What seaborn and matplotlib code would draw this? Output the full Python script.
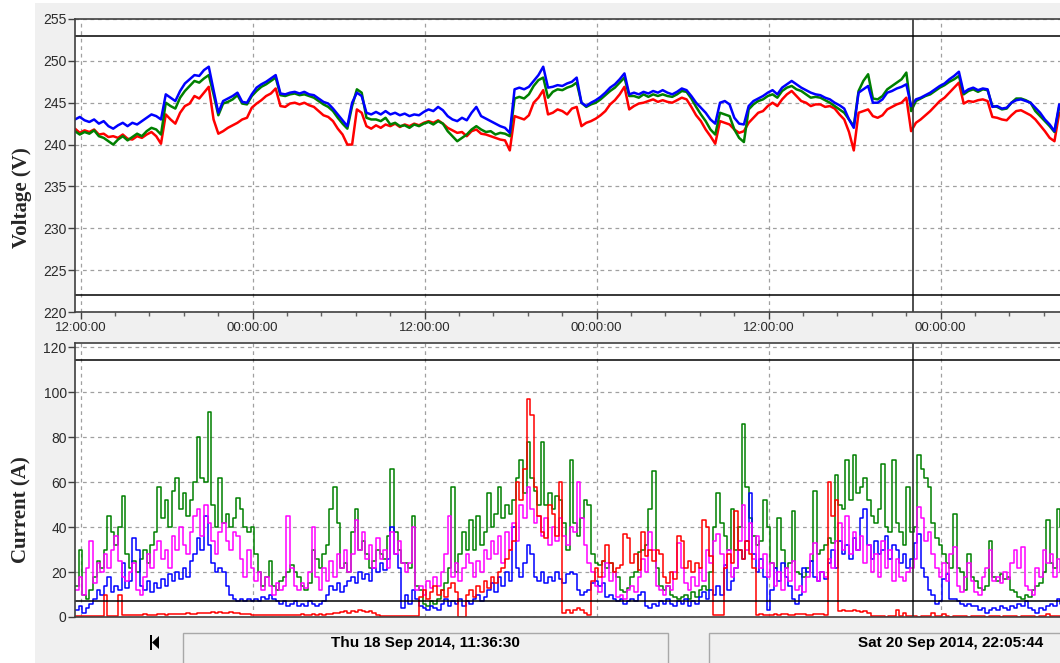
import numpy as np
import pandas as pd
import seaborn as sns
import matplotlib
matplotlib.use("Agg")
import matplotlib.pyplot as plt
import matplotlib.dates as mdates
from matplotlib.patches import Rectangle, Polygon


sns.set_style("white")
plt.rcParams["font.family"] = ["Liberation Sans", "DejaVu Sans"]

START = pd.Timestamp("2014-09-18 11:36:30")
CURSOR = pd.Timestamp("2014-09-20 22:05:44")
END = START + pd.Timedelta(hours=68.72)
VOLT_STEP = 20   # minutes
CUR_STEP = 15    # minutes

# phase voltages, one sample every 20 min
volt_blue = [
    243.0, 243.3, 242.9, 242.7, 243.0, 242.5, 242.8, 242.2, 241.9, 242.3, 242.6, 242.2,
    242.6, 242.4, 242.8, 243.2, 243.6, 243.4, 243.0, 246.0, 245.6, 245.2, 246.4, 247.3,
    247.8, 248.3, 248.2, 248.9, 249.3, 246.5, 243.8, 245.2, 245.5, 245.8, 246.2, 245.1,
    245.0, 246.0, 246.8, 247.2, 247.5, 247.9, 248.3, 246.1, 246.0, 246.2, 246.3, 246.1,
    246.3, 246.0, 245.9, 245.5, 245.1, 244.9, 244.3, 243.6, 242.9, 242.2, 245.0, 246.2,
    245.8, 243.8, 243.6, 243.9, 243.6, 244.0, 243.6, 243.8, 243.5, 243.7, 243.4, 243.6,
    243.5, 243.9, 244.2, 244.0, 244.5, 244.1, 243.4, 243.0, 242.8, 243.2, 242.9, 243.8,
    244.5, 243.4, 243.1, 242.8, 242.5, 242.2, 242.0, 241.4, 246.6, 246.8, 246.6, 246.9,
    247.6, 248.3, 249.3, 246.8, 246.9, 247.1, 247.0, 247.3, 247.5, 248.0, 245.0, 244.6,
    245.0, 245.3, 245.7, 246.2, 246.8, 247.2, 247.8, 248.5, 246.0, 246.2, 246.0, 246.3,
    246.1, 246.4, 246.2, 246.5, 246.2, 246.0, 246.3, 246.7, 246.5, 245.8, 245.0, 244.4,
    243.8, 243.0, 242.5, 245.0, 245.2, 244.8, 243.2, 242.5, 242.4, 244.6, 245.2, 245.5,
    245.8, 246.2, 246.5, 246.0, 246.8, 247.2, 247.6, 247.2, 246.8, 246.5, 246.2, 246.0,
    245.9, 245.6, 245.4, 245.0, 244.7, 244.3, 243.0, 242.0, 246.2, 246.6, 247.0, 245.0,
    245.0, 245.4, 246.2, 246.4, 246.7, 246.9, 247.2, 244.6, 245.4, 245.6, 245.9, 246.2,
    246.6, 247.0, 247.3, 247.8, 248.2, 248.7, 246.2, 246.6, 246.8, 246.5, 246.7, 246.6,
    244.5, 244.6, 244.3, 244.4, 245.0, 245.3, 245.4, 245.2, 245.0, 244.4, 243.8, 243.0,
    242.4, 241.6, 244.8,
]
volt_green = [
    241.6, 241.2, 241.5, 241.3, 241.7, 241.0, 240.8, 240.4, 240.0, 240.6, 241.0, 240.5,
    240.9, 241.3, 241.0, 241.6, 242.0, 241.8, 241.2, 245.0, 244.6, 244.3, 245.6, 246.4,
    247.0, 247.6, 247.4, 247.9, 248.3, 246.0, 243.5, 244.9, 245.1, 245.4, 245.9, 244.9,
    244.8, 245.8, 246.4, 246.9, 247.2, 247.6, 248.0, 245.9, 245.8, 246.0, 246.1, 245.9,
    246.0, 245.8, 245.6, 245.2, 244.8, 244.5, 244.0, 243.2, 242.5, 241.9, 244.6, 246.6,
    246.2, 243.2, 243.0, 243.0, 242.8, 243.2, 242.4, 242.6, 242.2, 242.3, 242.0, 242.4,
    242.2, 242.5, 242.7, 242.4, 242.8, 242.5, 241.6, 241.0, 240.4, 240.8, 241.2, 241.8,
    242.2, 241.8, 241.5, 241.6, 241.2, 241.4, 241.3, 241.0, 245.5, 245.7, 245.5, 246.0,
    247.0, 247.7, 248.0, 245.6, 246.3, 246.6, 246.5, 246.8, 247.0, 247.4, 245.0, 244.5,
    244.8, 245.0, 245.4, 245.9, 246.4, 246.8, 247.4, 248.0, 245.8, 245.8, 245.6, 246.0,
    245.7, 246.0, 245.8, 246.0, 245.8, 245.7, 246.0, 246.4, 246.3, 245.5, 244.5, 243.6,
    242.8, 241.8, 241.2, 243.8, 243.6, 243.4, 241.8, 240.8, 240.3, 244.2, 244.8, 245.2,
    245.4, 245.8, 246.0, 245.6, 246.4, 246.8, 247.0, 246.6, 246.4, 246.0, 245.6, 245.7,
    245.6, 245.3, 245.0, 244.6, 244.2, 243.8, 243.0, 242.2, 246.4, 247.6, 248.4, 245.5,
    245.4, 245.8, 246.6, 247.0, 247.4, 247.8, 248.6, 244.0, 245.2, 245.5, 245.8, 246.0,
    246.4, 246.8, 247.1, 247.5, 247.8, 248.2, 246.0, 246.4, 246.6, 246.3, 246.6, 246.5,
    244.6, 244.5, 244.2, 244.3, 245.0, 245.5, 245.5, 245.3, 245.0, 244.0, 243.4, 242.8,
    242.2, 241.5, 244.5,
]
volt_red = [
    241.9, 241.4, 241.7, 241.5, 241.8, 241.2, 241.3, 240.9, 241.0, 240.8, 241.2, 240.7,
    240.6, 241.0, 240.8, 241.2, 241.5, 241.0, 240.1, 243.6, 243.0, 242.5, 243.8, 244.6,
    244.9, 245.8, 245.5, 246.2, 246.9, 243.0, 241.3, 241.6, 242.0, 242.3, 242.6, 243.0,
    243.2, 244.4, 244.9, 245.3, 245.8, 246.1, 246.7, 244.6, 244.5, 244.9, 245.0, 244.8,
    245.0, 244.7, 244.5, 244.0, 243.5, 243.3, 242.8, 241.9, 241.2, 240.0, 240.0, 244.2,
    243.8, 242.2, 241.9, 242.3, 242.0, 242.4, 242.2, 242.5, 242.1, 242.4, 242.2, 242.5,
    242.3, 242.6, 242.8, 242.6, 242.9, 242.5, 242.0, 241.7, 241.4, 241.5, 241.0, 241.6,
    241.8, 241.3, 241.2, 241.0, 240.8, 240.6, 240.5, 239.3, 243.4, 243.2, 243.0, 243.5,
    245.0, 245.6, 246.5, 243.6, 243.8, 244.2, 244.0, 243.6, 244.3, 244.5, 242.2, 242.6,
    242.8, 243.1, 243.5, 244.0, 244.8, 245.3, 246.0, 246.9, 244.2, 244.6, 244.9, 245.0,
    245.2, 245.4, 245.1, 245.3, 245.1, 245.0, 245.3, 245.6, 245.4, 244.5, 243.5, 242.8,
    241.8, 241.0, 240.1, 242.8, 242.6, 242.4, 241.8, 241.4, 241.6, 242.6, 243.2, 243.8,
    244.0, 244.6, 245.0, 244.6, 245.4, 246.0, 246.4, 245.8, 245.2, 245.0, 244.6, 244.8,
    244.8, 244.5, 244.6, 244.3, 243.6, 243.0, 241.5, 239.3, 243.8, 244.0, 244.2, 243.4,
    243.2, 243.5, 244.2, 244.5, 244.8, 245.0, 245.6, 241.6, 242.6, 243.0, 243.5, 244.0,
    244.6, 245.2, 245.6, 246.2, 246.8, 247.4, 244.9, 245.2, 245.1, 245.3, 245.4, 245.2,
    243.3, 243.2, 243.0, 242.9, 243.5, 244.0, 244.1, 243.8, 243.5, 243.0, 242.3, 241.6,
    240.8, 240.4, 243.8,
]

# currents, one sample every 15 min
cur_green = [
    14, 30, 10, 8, 12, 18, 25, 22, 30, 45, 38, 32, 40, 54, 28, 22, 25, 20, 26, 30,
    24, 32, 38, 58, 44, 52, 40, 56, 62, 48, 55, 45, 52, 60, 80, 62, 60, 91, 50, 40,
    62, 42, 46, 40, 44, 53,
    48, 40, 38, 40, 28, 20, 14, 18, 25, 14, 12, 16, 18, 20, 23, 20, 18, 14, 12, 15,
    30, 26, 22, 28, 32, 48, 58, 42, 22, 24, 20, 38, 48, 30, 34, 28, 22, 25, 30, 28,
    26, 36, 66, 38, 30, 24,
    24, 22, 45, 14, 12, 6, 5, 7, 6, 8, 12, 15, 22, 58, 20, 28, 38, 30, 43, 30,
    45, 32, 38, 55, 40, 46, 58, 44, 50, 46, 52, 62, 70, 55, 78, 62, 56, 50, 78, 50,
    55, 48, 54, 52, 42, 30,
    70, 42, 36, 44, 52, 50, 28, 24, 23, 25, 22, 24, 20, 18, 12, 11, 13, 18, 20, 29,
    30, 32, 48, 65, 22, 14, 12, 14, 10, 9, 8, 9, 10, 8, 11, 9, 12, 14, 12, 20,
    40, 55, 42, 36, 30, 48,
    30, 40, 86, 58, 44, 36, 32, 34, 52, 40, 24, 22, 44, 30, 22, 24, 47, 20, 19, 18,
    22, 25, 56, 28, 30, 32, 35, 33, 63, 50, 48, 70, 52, 72, 55, 58, 62, 52, 45, 42,
    48, 68, 40, 38, 70, 42,
    38, 32, 58, 38, 40, 72, 66, 62, 58, 42, 35, 32, 28, 24, 22, 46, 22, 20, 12, 28,
    18, 16, 13, 12, 14, 34, 18, 16, 19, 17, 18, 12, 11, 9, 8, 10, 9, 12, 14, 15,
    20, 43, 24, 22, 48, 40,
]
cur_magenta = [
    12, 18, 10, 22, 34, 15, 24, 20, 28, 22, 30, 36, 25, 18, 16, 20, 24, 12, 10, 18,
    28, 22, 30, 34, 26, 30, 22, 36, 30, 40, 32, 28, 38, 45, 48, 36, 50, 42, 34, 28,
    38, 42, 34, 30, 38, 36,
    26, 18, 30, 22, 16, 20, 12, 18, 14, 10, 15, 12, 14, 45, 22, 14, 12, 15, 13, 20,
    40, 18, 12, 22, 16, 25, 18, 28, 22, 30, 20, 28, 43, 30, 38, 26, 32, 22, 35, 26,
    30, 22, 38, 28, 34, 24,
    20, 24, 40, 12, 14, 10, 16, 13, 18, 14, 20, 28, 45, 18, 24, 16, 22, 28, 24, 18,
    25, 20, 30, 26, 34, 28, 36, 24, 38, 30, 42, 34, 50, 44, 58, 48, 42, 45, 36, 44,
    32, 40, 34, 44, 36, 32,
    40, 38, 60, 44, 32, 24, 20, 14, 11, 18, 24, 16, 20, 9, 10, 8, 12, 14, 11, 18,
    26, 20, 38, 30, 14, 12, 10, 14, 12, 20, 33, 22, 15, 12, 18, 14, 22, 16, 30, 24,
    34, 37, 28, 22, 30, 18,
    22, 34, 50, 30, 42, 26, 36, 22, 28, 18, 24, 14, 20, 12, 22, 16, 25, 12, 14, 11,
    18, 28, 33, 16, 20, 18, 26, 22, 34, 42, 30, 45, 28, 38, 30, 36, 24, 32, 20, 28,
    18, 34, 22, 30, 16, 26,
    18, 16, 20, 22, 26, 49, 44, 34, 38, 28, 22, 18, 24, 16, 28, 31, 14, 11, 18, 24,
    16, 11, 10, 18, 22, 30, 16, 18, 15, 20, 17, 24, 30, 22, 31, 14, 12, 10, 22, 18,
    30, 24, 28, 18, 26, 20,
]
cur_blue = [
    3, 5, 2, 4, 6, 8, 12, 10, 14, 18, 11, 14, 12, 24, 13, 16, 35, 30, 14, 12,
    16, 11, 15, 13, 17, 14, 19, 16, 20, 17, 22, 18, 25, 28, 35, 30, 45, 32, 24, 20,
    22, 20, 14, 10, 8, 7,
    8, 7, 8, 7, 8, 7, 9, 8, 10, 8, 7, 6, 7, 5, 6, 7, 5, 6, 5, 7,
    6, 5, 6, 7, 10, 14, 12, 15, 11, 14, 16, 18, 15, 20, 17, 19, 16, 22, 20, 24,
    21, 26, 40, 28, 22, 4,
    10, 6, 12, 8, 5, 4, 3, 5, 4, 3, 6, 8, 5, 7, 6, 8, 5, 7, 6, 8,
    10, 7, 9, 12, 15, 11, 18, 14, 20, 16, 40, 22, 18, 24, 32, 28, 18, 16, 20, 15,
    18, 16, 20, 17, 15, 19,
    20, 19, 12, 10, 11, 12, 15, 16, 14, 15, 9, 10, 8, 7, 8, 6, 7, 8, 7, 10,
    11, 5, 4, 6, 5, 7, 6, 8, 6, 5, 7, 6, 8, 5, 7, 6, 9, 11, 8, 12,
    10, 14, 10, 23, 12, 16,
    22, 30, 26, 34, 55, 28, 20, 26, 18, 3, 12, 22, 16, 24, 18, 14, 8, 6, 10, 22,
    20, 25, 18, 16, 20, 17, 24, 30, 22, 34, 28, 32, 26, 35, 30, 44, 48, 32, 26, 34,
    28, 30, 36, 26, 32, 30,
    24, 28, 22, 26, 33, 37, 22, 18, 12, 10, 6, 7, 17, 19, 8, 8, 7, 6, 5, 6,
    5, 5, 3, 4, 2, 3, 4, 3, 5, 4, 3, 5, 4, 6, 5, 7, 4, 3, 2, 4,
    3, 5, 6, 5, 8, 6,
]
cur_red = [
    0.5, 0.6, 0.5, 0.4, 0.5, 0.6, 0.5, 0.5, 10, 0.5, 0.6, 0.5, 10, 0.8, 1.0, 0.9, 1.1, 1.0, 0.9, 1.2,
    1.0, 1.1, 0.9, 1.2, 1.3, 1.1, 1.4, 1.2, 1.5, 1.3, 1.4, 1.6, 1.4, 1.5, 1.7, 1.8, 2.0, 1.7, 2.1, 1.9,
    2.2, 2.0, 1.8, 2.1, 1.9, 1.6,
    1.4, 1.2, 1.3, 1.0, 1.1, 0.9, 1.0, 0.8, 1.0, 0.9, 1.1, 1.0, 0.8, 1.0, 1.1, 0.9, 1.0, 1.2, 1.0, 1.1,
    1.3, 1.0, 1.2, 1.1, 1.4, 1.3, 1.6, 1.8, 2.2, 2.6, 2.0, 2.8, 2.4, 3.0, 2.5, 2.2, 2.6, 2.0, 1.0, 0.6,
    0.5, 0.4, 0.6, 0.5, 0.4, 0.5,
    0.6, 0.4, 0.5, 0.6, 9, 12, 8, 11, 14, 10, 12, 9, 13, 15, 11, 0, 0, 10, 12, 9,
    14, 11, 16, 13, 18, 15, 20, 22, 26, 30, 34, 60, 52, 66, 97, 90, 58, 45, 38, 35,
    50, 46, 36, 60, 2, 3,
    2, 3, 4, 3, 2, 1, 16, 22, 18, 25, 32, 24, 20, 22, 23, 37, 35, 24, 28, 21,
    38, 27, 30, 25, 30, 28, 18, 15, 20, 17, 36, 34, 22, 25, 20, 24, 22, 43, 40, 27,
    1, 1, 1, 22, 28, 24,
    47, 30, 26, 34, 28, 22, 1.0, 1.2, 1.0, 0.9, 1.1, 1.3, 1.0, 1.2, 1.4, 1.1, 1.0, 1.2, 1.5, 1.3,
    1.1, 1.0, 1.2, 1.4, 1.2, 1.0, 60, 45, 52, 2.5, 3.0, 2.6, 2.8, 3.2, 2.5, 2.2, 2.6, 2.0, 0.3, 0.4,
    0.3, 0.3, 0.2, 0.3, 0.4, 3,
    0.3, 2.0, 0.3, 0.4, 0.3, 0.2, 0.3, 0.4, 0.3, 2.0, 0.3, 0.4, 1.2, 0.3, 0.2, 0.3, 0.4, 0.3, 0.3, 0.2,
    0.3, 0.4, 0.3, 0.3, 0.2, 0.3, 0.4, 0.3, 0.2, 0.3, 0.3, 0.4, 0.3, 0.2, 0.3, 0.3, 0.4, 0.3, 0.2, 0.3,
    0.3, 1.2, 0.3, 0.4, 0.3, 0.3,
]

V_LIMITS = [253, 222]
I_LIMITS = [114.5, 7]

for s in (volt_blue, volt_green, volt_red):
    assert len(s) == 207, len(s)
for s in (cur_green, cur_magenta, cur_blue, cur_red):
    assert len(s) == 276, len(s)


def long_frame(series, step):
    parts = []
    for name, vals in series.items():
        t = START + pd.to_timedelta(np.arange(len(vals)) * step, unit="m")
        parts.append(pd.DataFrame({"time": t, "value": vals, "phase": name}))
    return pd.concat(parts, ignore_index=True)


df_v = long_frame({"L1": volt_red, "L2": volt_green, "L3": volt_blue}, VOLT_STEP)
df_i = long_frame({"L2": cur_green, "L3": cur_blue, "N": cur_magenta, "L1": cur_red}, CUR_STEP)

colors = {"L1": "#ff0000", "L2": "#008000", "L3": "#0000ff", "N": "#ff00ff"}

W, H = 1060, 663
fig = plt.figure(figsize=(W / 100, H / 100), dpi=100, facecolor="white")
fig.patches.append(Rectangle((35 / W, 0), 1 - 35 / W, 1 - 3 / H, transform=fig.transFigure,
                             facecolor="#f0f0f0", edgecolor="none", zorder=-5))

ax1 = fig.add_axes([75 / W, 1 - 312 / H, 985 / W, 293 / H])
ax2 = fig.add_axes([75 / W, 1 - 617 / H, 985 / W, 274.3 / H])

sns.lineplot(data=df_v, x="time", y="value", hue="phase", hue_order=["L1", "L2", "L3"],
             palette=colors, estimator=None, legend=False, lw=1.8, ax=ax1)
sns.lineplot(data=df_i, x="time", y="value", hue="phase", hue_order=["L2", "L3", "N", "L1"],
             palette=colors, estimator=None, legend=False, lw=1.1, drawstyle="steps-post", ax=ax2)

grid_kw = dict(color="#a0a0a0", linestyle=(0, (3, 3)), linewidth=0.9)
for ax in (ax1, ax2):
    ax.set_facecolor("white")
    ax.set_xlim(START, END)
    ax.xaxis.set_major_locator(mdates.HourLocator(byhour=[0, 12]))
    ax.xaxis.set_major_formatter(mdates.DateFormatter("%H:%M:%S"))
    # minor ticks every 0.1 day between the 12 h marks
    ax.xaxis.set_minor_locator(matplotlib.ticker.MultipleLocator(0.1))
    ax.grid(True, which="major", **grid_kw)
    ax.set_axisbelow(True)
    ax.axvline(CURSOR, color="#303030", lw=1.2)
    ax.set_xlabel("")
    for side in ("left", "top", "bottom"):
        ax.spines[side].set_color("#404040")
        ax.spines[side].set_linewidth(1.2)
    ax.spines["right"].set_visible(False)
    ax.tick_params(axis="y", left=True, length=5, width=1, color="#404040", pad=1,
                   labelsize=10, labelcolor="#2a2a2a")

ax1.set_ylim(220, 255)
ax1.set_yticks(np.arange(220, 256, 5))
ax1.tick_params(axis="x", which="major", bottom=True, length=5, width=1, color="#404040",
                pad=2, labelsize=9.5, labelcolor="#2a2a2a")
ax1.tick_params(axis="x", which="minor", bottom=True, length=3, width=1, color="#606060")
for v in V_LIMITS:
    ax1.axhline(v, color="black", lw=1.1)

ax2.set_ylim(0, 122)
ax2.set_yticks(np.arange(0, 121, 20))
ax2.tick_params(axis="x", which="both", bottom=False, length=0, labelbottom=False)
for v in I_LIMITS:
    ax2.axhline(v, color="black", lw=1.1)

label_kw = dict(fontfamily="Liberation Serif", fontweight="bold", fontsize=15)
ax1.set_ylabel("Voltage (V)", **label_kw)
ax2.set_ylabel("Current (A)", **label_kw)
ax1.yaxis.set_label_coords(-0.044, 0.39)
ax2.yaxis.set_label_coords(-0.044, 0.39)

# navigation strip under the chart
def px(x, y):
    return (x / W, 1 - y / H)

fig.patches.append(Polygon([px(150, 635), px(152, 635), px(152, 650), px(150, 650)], closed=True,
                           transform=fig.transFigure, facecolor="black", edgecolor="none"))
fig.patches.append(Polygon([px(152, 642.5), px(159, 636), px(159, 649)], closed=True,
                           transform=fig.transFigure, facecolor="black", edgecolor="none"))
for x0, x1 in [(183, 668), (709, 1070)]:
    fig.patches.append(Rectangle(px(x0, 670), (x1 - x0) / W, 37 / H, transform=fig.transFigure,
                                 facecolor="#f0f0f0", edgecolor="#a8a8a8", lw=1))
fig.text(425 / W, 1 - 643 / H, "Thu 18 Sep 2014, 11:36:30", ha="center", va="center",
         fontsize=11, fontweight="bold", color="black")
fig.text(951 / W, 1 - 643 / H, "Sat 20 Sep 2014, 22:05:44", ha="center", va="center",
         fontsize=11, fontweight="bold", color="black")

fig.savefig("out.png", dpi=100)
